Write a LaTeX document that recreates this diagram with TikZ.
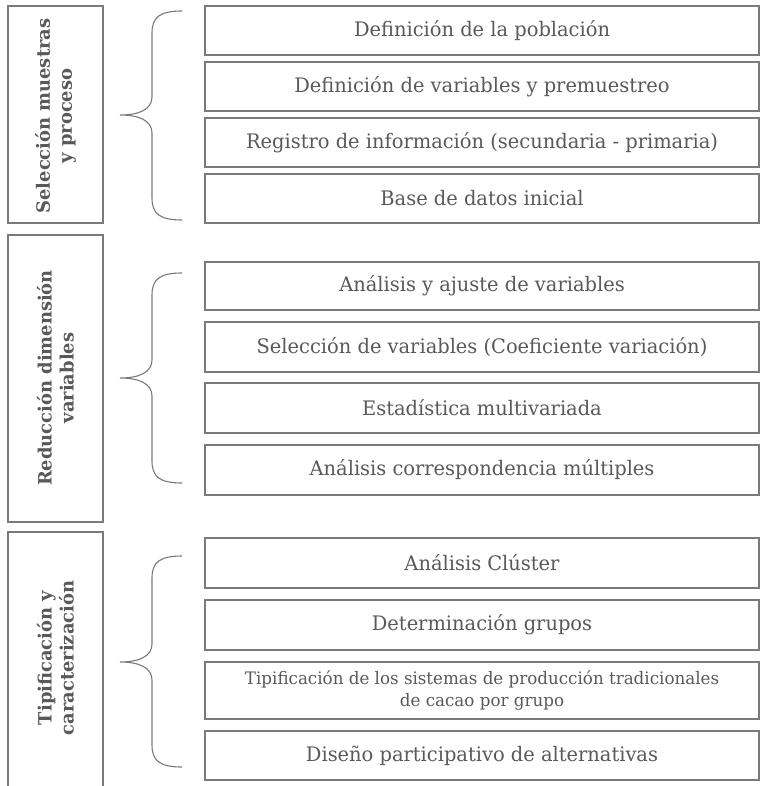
\documentclass[tikz,border=0pt]{standalone}
\usepackage{fontspec}
\setmainfont{DejaVu Serif Condensed}[FakeStretch=1.08]
\definecolor{txt}{HTML}{595959}
\definecolor{brd}{HTML}{7A7A7A}
\begin{document}
\begin{tikzpicture}[x=1pt,y=-1pt,
  rbox/.style={draw=brd,line width=1.3pt,minimum width=554pt,inner sep=0pt,
    text=txt,font=\fontsize{20}{22}\selectfont,align=center},
  lbox/.style={draw=brd,line width=1.3pt,minimum width=95pt,inner sep=0pt},
  ltext/.style={rotate=90,text=txt,font=\fontsize{18.4}{22}\selectfont\bfseries,align=center},
  brace/.style={draw=brd,line width=1.1pt}]
\clip (0,0) rectangle (761,786);
\fill[white] (0,0) rectangle (761,786);
% left boxes
\node[lbox,minimum height=217pt] (l1) at (55.5,114.5) {};
\node[ltext] (t1) at (55.5,116) {Selección muestras\\y proceso};
\node[lbox,minimum height=287pt] (l2) at (55.5,378.5) {};
\node[ltext] (t2) at (55.5,378) {Reducción dimensión\\variables};
\draw[draw=brd,line width=1.3pt] (8,800) -- (8,532) -- (103,532) -- (103,800);
\node[ltext] (t3) at (55.5,658) {Tipificación y\\caracterización};
% braces
\foreach \a/\m/\b in {11/115/220, 273/378/483, 556/662/767}{
  \draw[brace] (182,\a) .. controls (160,\a) and (152,\a+6) .. (152,\a+22)
    -- (152,\m-18) .. controls (152,\m-5) and (138,\m) .. (120,\m)
    .. controls (138,\m) and (152,\m+5) .. (152,\m+18)
    -- (152,\b-22) .. controls (152,\b-6) and (160,\b) .. (182,\b);
}
% right boxes
\node[rbox,minimum height=49pt] (a1) at (482,30.5) {Definición de la población};
\node[rbox,minimum height=49pt] (a2) at (482,86.5) {Definición de variables y premuestreo};
\node[rbox,minimum height=49pt] (a3) at (482,142.5) {Registro de información (secundaria - primaria)};
\node[rbox,minimum height=49pt] (a4) at (482,198.5) {Base de datos inicial};
\node[rbox,minimum height=48pt] (b1) at (482,286) {Análisis y ajuste de variables};
\node[rbox,minimum height=50pt] (b2) at (482,347) {Selección de variables (Coeficiente variación)};
\node[rbox,minimum height=50pt] (b3) at (482,408) {Estadística multivariada};
\node[rbox,minimum height=50pt] (b4) at (482,470) {Análisis correspondencia múltiples};
\node[rbox,minimum height=50pt] (c1) at (482,563) {Análisis Clúster};
\node[rbox,minimum height=50pt] (c2) at (482,625) {Determinación grupos};
\node[rbox,minimum height=57pt,font=\fontsize{17.2}{22}\selectfont] (c3) at (482,690.5) {Tipificación de los sistemas de producción tradicionales\\de cacao por grupo};
\node[rbox,minimum height=49pt] (c4) at (482,755.5) {Diseño participativo de alternativas};
\end{tikzpicture}
\end{document}
